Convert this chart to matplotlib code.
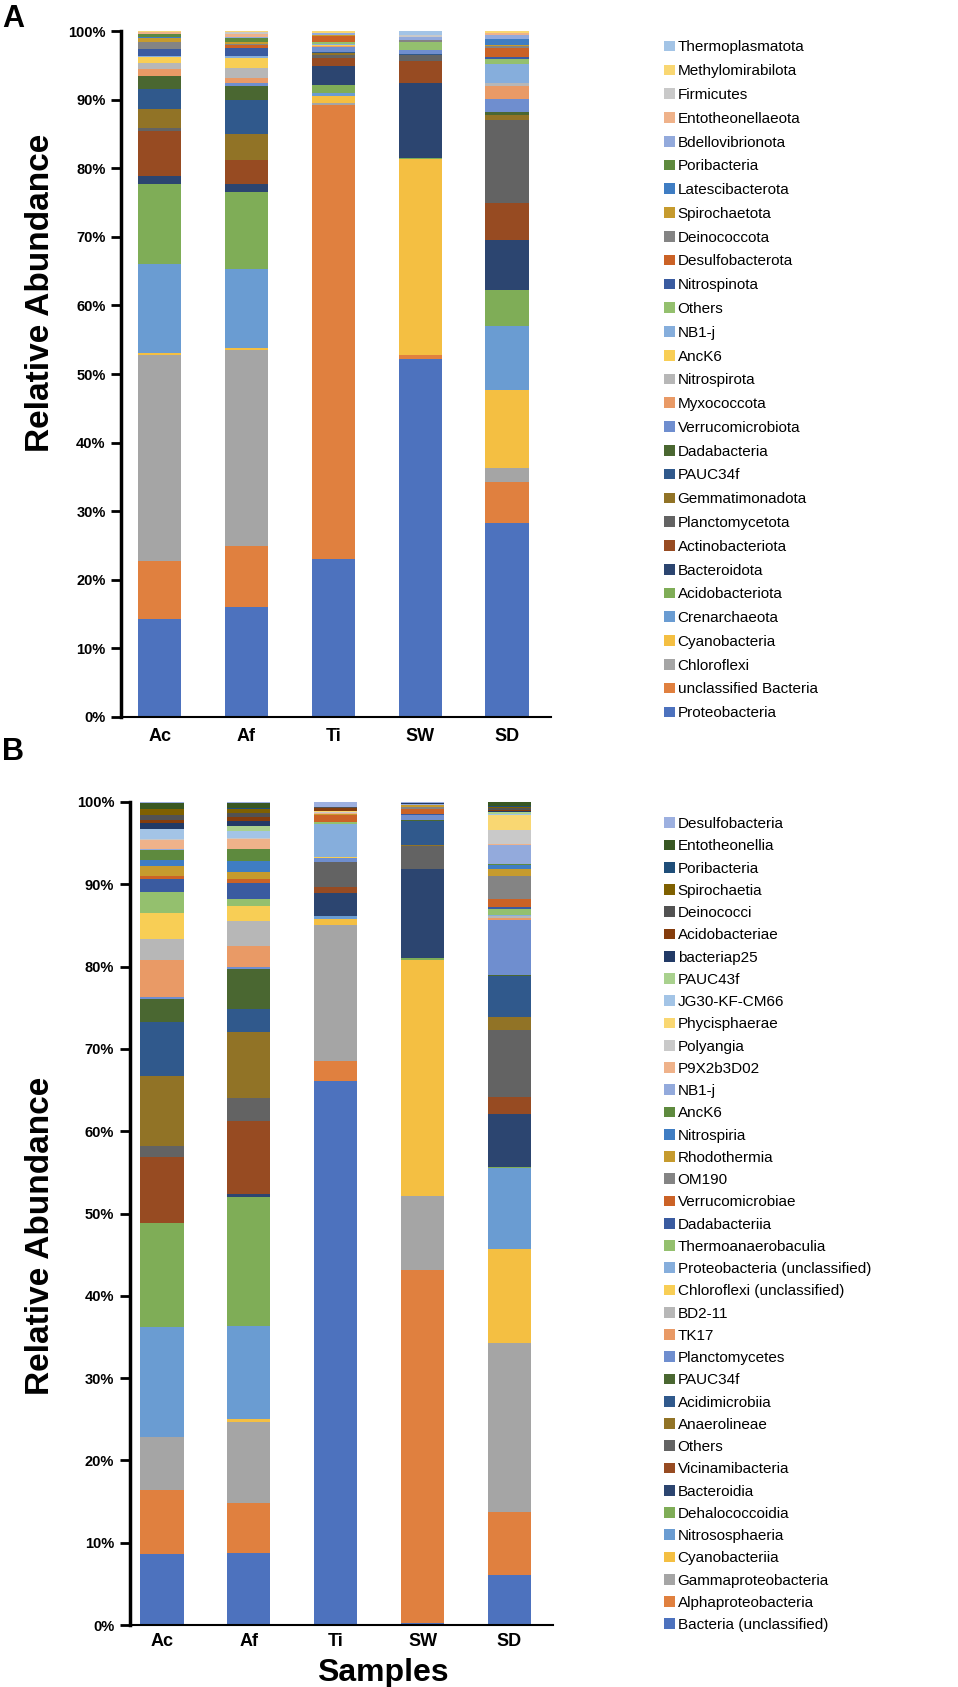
import numpy as np
import matplotlib
matplotlib.use('Agg')
import matplotlib.pyplot as plt

plt.rcParams['font.family'] = ['Liberation Sans', 'DejaVu Sans']

samples = ['Ac', 'Af', 'Ti', 'SW', 'SD']

# Panel A: phyla (bottom -> top of stack)
taxa_a = ['Proteobacteria', 'unclassified Bacteria', 'Chloroflexi', 'Cyanobacteria',
          'Crenarchaeota', 'Acidobacteriota', 'Bacteroidota', 'Actinobacteriota',
          'Planctomycetota', 'Gemmatimonadota', 'PAUC34f', 'Dadabacteria',
          'Verrucomicrobiota', 'Myxococcota', 'Nitrospirota', 'AncK6', 'NB1-j', 'Others',
          'Nitrospinota', 'Desulfobacterota', 'Deinococcota', 'Spirochaetota',
          'Latescibacterota', 'Poribacteria', 'Bdellovibrionota', 'Entotheonellaeota',
          'Firmicutes', 'Methylomirabilota', 'Thermoplasmatota']

ac_a = [14.3, 8.5, 30.0, 0.3, 13.0, 11.6, 1.2, 6.6, 0.4, 2.8, 2.9, 1.8, 0.1, 0.9, 0.9,
        0.9, 0.1, 0.1, 1.0, 0.05, 1.0, 0.6, 0.05, 0.4, 0.05, 0.3, 0.05, 0.15, 0.05]
af_a = [16.1, 8.85, 28.6, 0.3, 11.4, 11.3, 1.2, 3.4, 0.1, 3.8, 4.9, 2.1, 0.35, 0.7, 1.5,
        1.5, 0.2, 0.1, 1.15, 0.4, 0.1, 0.3, 0.1, 0.5, 0.15, 0.5, 0.25, 0.1, 0.2]
ti_a = [23.1, 66.1, 0.35, 1.0, 0.35, 1.3, 2.75, 1.1, 0.4, 0.4, 0.05, 0.05, 0.75, 0.05, 0.05,
        0.2, 0.05, 0.3, 0.05, 0.85, 0.05, 0.05, 0.05, 0.05, 0.2, 0.05, 0.05, 0.3, 0.05]
sw_a = [52.2, 0.6, 0.0, 28.6, 0.0, 0.15, 10.9, 3.2, 0.8, 0.1, 0.1, 0.05, 0.6, 0.0, 0.0,
        0.0, 0.0, 1.05, 0.0, 0.0, 0.3, 0.0, 0.0, 0.0, 0.5, 0.0, 0.25, 0.0, 0.7]
sd_a = [28.3, 6.0, 2.0, 11.3, 9.4, 5.2, 7.4, 5.3, 12.2, 0.68, 0.05, 0.39, 1.85, 1.95, 0.35,
        0.1, 2.67, 0.73, 0.3, 1.3, 0.4, 0.1, 0.8, 0.1, 0.5, 0.3, 0.1, 0.25, 0.05]

# Panel B: classes (bottom -> top of stack)
taxa_b = ['Bacteria (unclassified)', 'Alphaproteobacteria', 'Gammaproteobacteria',
          'Cyanobacteriia', 'Nitrososphaeria', 'Dehalococcoidia', 'Bacteroidia',
          'Vicinamibacteria', 'Others', 'Anaerolineae', 'Acidimicrobiia', 'PAUC34f',
          'Planctomycetes', 'TK17', 'BD2-11', 'Chloroflexi (unclassified)',
          'Proteobacteria (unclassified)', 'Thermoanaerobaculia', 'Dadabacteriia',
          'Verrucomicrobiae', 'OM190', 'Rhodothermia', 'Nitrospiria', 'AncK6', 'NB1-j',
          'P9X2b3D02', 'Polyangia', 'Phycisphaerae', 'JG30-KF-CM66', 'PAUC43f',
          'bacteriap25', 'Acidobacteriae', 'Deinococci', 'Spirochaetia', 'Poribacteria',
          'Entotheonellia', 'Desulfobacteria']

ac_b = [8.6, 7.8, 6.4, 0.1, 13.3, 12.6, 0.05, 8.0, 1.3, 8.6, 6.5, 2.8, 0.3, 4.5, 2.45, 3.2,
        0.05, 2.5, 1.6, 0.3, 0.05, 1.2, 0.8, 1.2, 0.05, 1.15, 0.05, 0.05, 1.2, 0.05, 0.75,
        0.3, 0.65, 0.7, 0.05, 0.7, 0.15]
af_b = [8.8, 6.0, 9.9, 0.3, 11.3, 15.7, 0.35, 8.9, 2.8, 8.0, 2.75, 4.95, 0.15, 2.6, 3.1, 1.75,
        0.05, 0.8, 2.0, 0.4, 0.05, 0.9, 1.3, 1.45, 0.05, 1.2, 0.05, 0.05, 0.8, 0.6, 0.7,
        0.45, 0.5, 0.5, 0.05, 0.6, 0.2]
ti_b = [66.1, 2.4, 16.5, 0.8, 0.3, 0.1, 2.8, 0.65, 3.0, 0.02, 0.02, 0.02, 0.5, 0.02, 0.02,
        0.02, 4.1, 0.15, 0.02, 0.85, 0.02, 0.1, 0.02, 0.02, 0.02, 0.1, 0.1, 0.1, 0.02, 0.02,
        0.02, 0.4, 0.02, 0.02, 0.02, 0.02, 0.6]
sw_b = [0.3, 42.8, 9.0, 28.7, 0.05, 0.2, 10.8, 0.05, 2.8, 0.05, 3.0, 0.02, 0.6, 0.02, 0.02,
        0.02, 0.02, 0.02, 0.02, 0.6, 0.35, 0.2, 0.02, 0.02, 0.02, 0.02, 0.02, 0.02, 0.02,
        0.02, 0.02, 0.02, 0.02, 0.02, 0.02, 0.02, 0.2]
sd_b = [6.1, 7.6, 20.6, 11.4, 9.8, 0.1, 6.5, 2.0, 8.2, 1.6, 5.0, 0.1, 6.7, 0.2, 0.2, 0.1,
        0.1, 0.7, 0.2, 1.0, 2.8, 0.9, 0.5, 0.1, 2.3, 0.1, 1.7, 1.8, 0.1, 0.3, 0.1, 0.1, 0.3,
        0.1, 0.1, 0.5, 0.2]

# Excel style series colours (slightly muted like the source picture)
palette = ['#4D72BE', '#E0803F', '#A5A5A5', '#F4BF42', '#6A9CD2', '#7FAD57',
           '#2C4570', '#974B22', '#636363', '#917326', '#30598C', '#4A6731',
           '#6F8ECF', '#E99A66', '#B7B7B7', '#F8CE55', '#86AEDC', '#94C06E',
           '#3A5BA0', '#CB6226', '#848484', '#C69B2E', '#3F7DC3', '#5E8A3E',
           '#93AADC', '#EFB28A', '#C9C9C9', '#F9D772', '#A3C4E6', '#A9D18E',
           '#223A66', '#843C0C', '#525252', '#7F6000', '#1F4E79', '#385723',
           '#9DB0E0']


def draw_panel(ax, data, taxa, x_left):
    vals = np.array(data)
    x = np.arange(len(samples))
    bottom = np.zeros(len(samples))
    handles = []
    for i, name in enumerate(taxa):
        h = ax.bar(x, vals[:, i], bottom=bottom, width=0.5, color=palette[i],
                   label=name, linewidth=0)
        bottom += vals[:, i]
        handles.append(h)
    ax.set_xlim(x_left, 4.5)
    ax.set_ylim(0, 100)
    ax.set_yticks(range(0, 101, 10))
    ax.set_yticklabels([f'{t}%' for t in range(0, 101, 10)], fontsize=10.5, fontweight='bold')
    ax.set_xticks(x)
    ax.set_xticklabels(samples, fontsize=13, fontweight='bold')
    ax.tick_params(axis='x', length=0, pad=8)
    ax.tick_params(axis='y', length=7, width=2, direction='out', pad=4)
    for s in ['top', 'right']:
        ax.spines[s].set_visible(False)
    ax.spines['left'].set_linewidth(2.5)
    ax.spines['bottom'].set_linewidth(1.5)
    return handles


fig = plt.figure(figsize=(9.58, 16.87), dpi=100)
ax_a = fig.add_axes([0.1263, 0.575, 0.4484, 0.4066])
ax_b = fig.add_axes([0.1352, 0.0367, 0.4420, 0.4879])

h_a = draw_panel(ax_a, [ac_a, af_a, ti_a, sw_a, sd_a], taxa_a, -0.444)
h_b = draw_panel(ax_b, [ac_b, af_b, ti_b, sw_b, sd_b], taxa_b, -0.372)
ax_b.tick_params(axis='x', pad=6)

fig.legend(h_a[::-1], taxa_a[::-1], loc='upper left', bbox_to_anchor=(0.693, 0.976),
           frameon=False, fontsize=11, handlelength=0.7, handleheight=0.7,
           handletextpad=0.2, labelspacing=0.64, borderpad=0, borderaxespad=0)
fig.legend(h_b[::-1], taxa_b[::-1], loc='upper left', bbox_to_anchor=(0.693, 0.5157),
           frameon=False, fontsize=11, handlelength=0.7, handleheight=0.7,
           handletextpad=0.2, labelspacing=0.54, borderpad=0, borderaxespad=0)

fig.text(41 / 958, 1 - 293 / 1687, 'Relative Abundance', rotation=90,
         ha='center', va='center', fontsize=24, fontweight='bold')
fig.text(41 / 958, 1 - 1236 / 1687, 'Relative Abundance', rotation=90,
         ha='center', va='center', fontsize=24, fontweight='bold')
fig.text(383 / 958, 1 - 1681 / 1687, 'Samples', ha='center', va='baseline',
         fontsize=23, fontweight='bold')
fig.text(2 / 958, 1 - 19 / 1687, 'A', ha='left', va='center', fontsize=22, fontweight='bold')
fig.text(2 / 958, 1 - 752 / 1687, 'B', ha='left', va='center', fontsize=22, fontweight='bold')

fig.savefig('out.png', dpi=100)
